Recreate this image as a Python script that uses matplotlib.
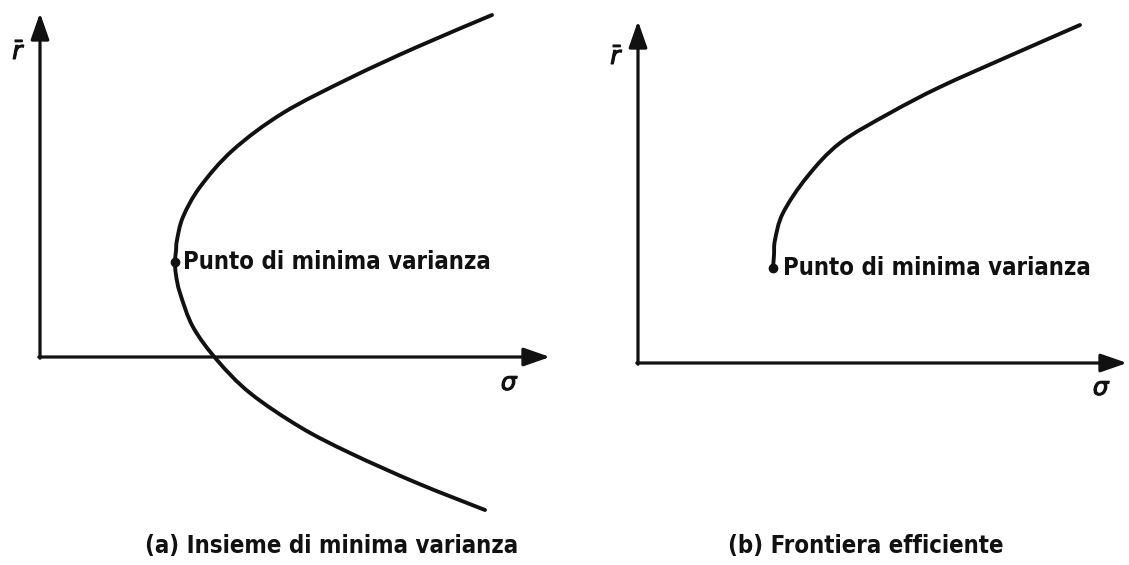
import matplotlib
matplotlib.use("Agg")
import matplotlib.pyplot as plt
from matplotlib.path import Path
from matplotlib.patches import PathPatch
import matplotlib.patheffects as pe

# ---- data (arbitrary units: sigma, r-bar) ----
# (a) minimum-variance set: lower branch (from bottom end to vertex) and upper branch
lower_sigma = [4.45, 3.77, 3.10, 2.60, 2.10, 1.77, 1.53, 1.40, 1.36, 1.35]
lower_r     = [-1.53, -1.26, -0.96, -0.70, -0.36, -0.03, 0.30, 0.64, 0.82, 0.95]
upper_sigma = [1.35, 1.36, 1.37, 1.43, 1.60, 1.93, 2.43, 3.10, 3.77, 4.52]
upper_r     = [0.95, 1.06, 1.17, 1.40, 1.70, 2.07, 2.44, 2.79, 3.10, 3.42]
minvar_a    = (1.35, 0.95)

# (b) efficient frontier
front_sigma = [1.35, 1.36, 1.37, 1.45, 1.69, 2.02, 2.52, 3.02, 3.69, 4.42]
front_r     = [0.95, 1.08, 1.23, 1.50, 1.86, 2.20, 2.50, 2.76, 3.06, 3.38]
minvar_b    = (1.35, 0.95)

point_label = "Punto di minima varianza"
captions = ["(a) Insieme di minima varianza", "(b) Frontiera efficiente"]
txt = dict(family="DejaVu Sans", stretch="condensed", weight="bold", fontsize=17.2)

fig = plt.figure(figsize=(11.29, 5.65), dpi=100)
fig.patch.set_facecolor("white")

ax1 = fig.add_axes([0.0, 0.0, 0.5, 1.0])
ax2 = fig.add_axes([0.5, 0.0, 0.5, 1.0])
ax1.set_xlim(-0.40, 5.245)
ax1.set_ylim(-2.08, 3.57)
ax2.set_xlim(-0.735, 4.91)
ax2.set_ylim(-2.02, 3.63)

ink = "#111111"
arrow_kw = dict(arrowstyle="-|>,head_length=0.8,head_width=0.28", lw=2.3,
                color=ink, mutation_scale=20, shrinkA=0, shrinkB=0)


def axes_arrows(ax, xend, yend):
    ax.annotate("", xy=(xend, 0), xytext=(-0.012, 0), arrowprops=arrow_kw,
                annotation_clip=False)
    ax.annotate("", xy=(0, yend), xytext=(0, -0.012), arrowprops=arrow_kw,
                annotation_clip=False)


def smooth_curve(ax, xs, ys, **kw):
    """Draw a smooth curve through the read points (Catmull-Rom as Bezier)."""
    pts = list(zip(xs, ys))
    verts = [pts[0]]
    codes = [Path.MOVETO]
    n = len(pts)
    for i in range(n - 1):
        p0 = pts[i - 1] if i > 0 else pts[i]
        p1 = pts[i]
        p2 = pts[i + 1]
        p3 = pts[i + 2] if i + 2 < n else pts[i + 1]
        c1 = (p1[0] + (p2[0] - p0[0]) / 6, p1[1] + (p2[1] - p0[1]) / 6)
        c2 = (p2[0] - (p3[0] - p1[0]) / 6, p2[1] - (p3[1] - p1[1]) / 6)
        verts += [c1, c2, p2]
        codes += [Path.CURVE4] * 3
    ax.add_patch(PathPatch(Path(verts, codes), fill=False, **kw))


curve_kw = dict(edgecolor=ink, lw=2.8, capstyle="round", joinstyle="round")
bold = [pe.withStroke(linewidth=0.8, foreground=ink)]

# panel (a)
axes_arrows(ax1, 5.10, 3.44)
smooth_curve(ax1, lower_sigma + upper_sigma[1:], lower_r + upper_r[1:], **curve_kw)
ax1.plot(*minvar_a, "o", color=ink, ms=6)
ax1.text(minvar_a[0] + 0.08, minvar_a[1], point_label, va="center", ha="left",
         color=ink, **txt)
ax1.text(-0.21, 3.05, r"$\bar{r}$", fontsize=18, ha="center", va="center",
         color=ink, path_effects=bold)
ax1.text(4.70, -0.26, r"$\sigma$", fontsize=18, ha="center", va="center",
         color=ink, path_effects=bold)
ax1.text(2.92, -1.89, captions[0], ha="center", va="center", color=ink, **txt)

# panel (b)
axes_arrows(ax2, 4.89, 3.42)
smooth_curve(ax2, front_sigma, front_r, **curve_kw)
ax2.plot(*minvar_b, "o", color=ink, ms=6)
ax2.text(minvar_b[0] + 0.10, minvar_b[1], point_label, va="center", ha="left",
         color=ink, **txt)
ax2.text(-0.21, 3.06, r"$\bar{r}$", fontsize=18, ha="center", va="center",
         color=ink, path_effects=bold)
ax2.text(4.64, -0.25, r"$\sigma$", fontsize=18, ha="center", va="center",
         color=ink, path_effects=bold)
ax2.text(2.28, -1.83, captions[1], ha="center", va="center", color=ink, **txt)

for ax in (ax1, ax2):
    ax.axis("off")

fig.savefig("out.png", dpi=100, facecolor="white")
